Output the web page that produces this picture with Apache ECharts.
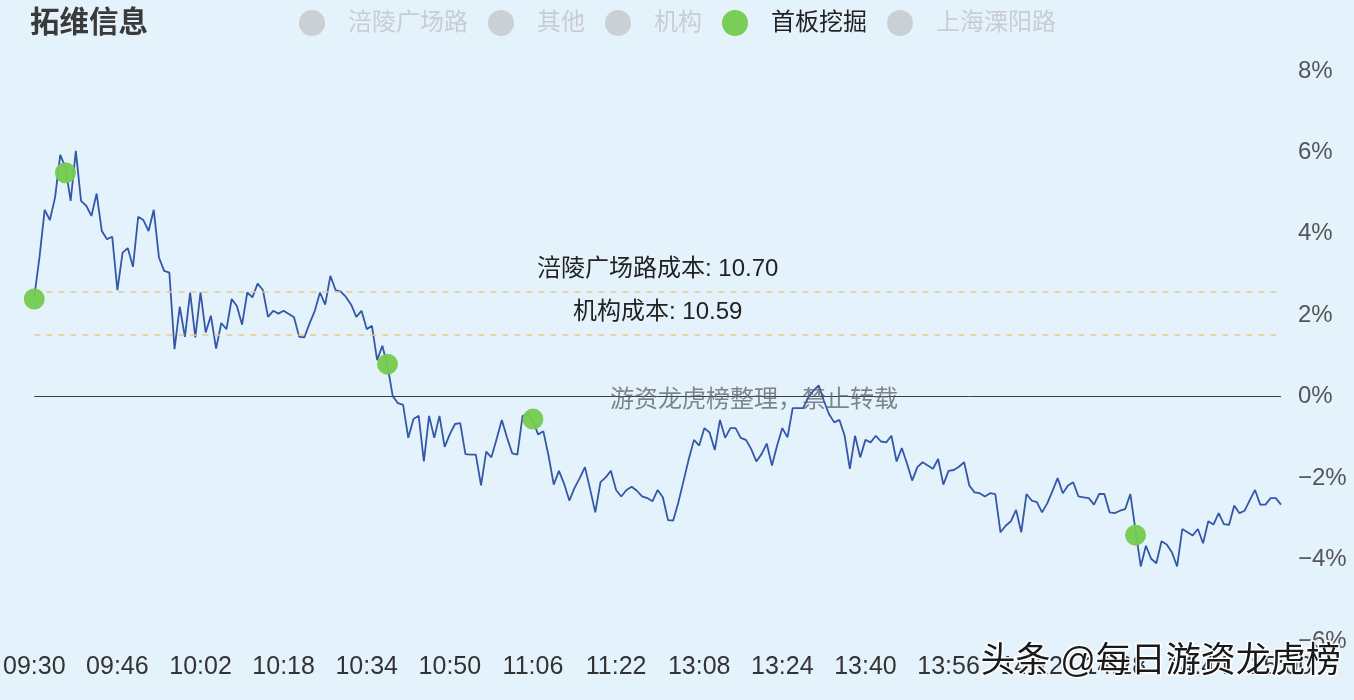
<!DOCTYPE html>
<html>
<head>
<meta charset="utf-8">
<script src="https://cdn.jsdelivr.net/npm/echarts@6/dist/echarts.min.js"></script>
<style>
html,body{margin:0;padding:0;background:#e4f2fc;}
#c{width:1354px;height:700px;}
</style>
</head>
<body>
<div id="c"></div>
<script>
// ---------- data ----------
const stockName = '拓维信息';
const sessions = [['09:30', '11:30'], ['13:01', '15:00']];
const pctChange = [
  2.45, 3.42, 4.59, 4.34, 4.89, 5.94, 5.63, 4.81, 6.04, 4.81,
  4.69, 4.44, 4.99, 4.07, 3.87, 3.93, 2.62, 3.54, 3.65, 3.19,
  4.42, 4.34, 4.07, 4.59, 3.42, 3.09, 3.05, 1.17, 2.21, 1.47,
  2.56, 1.46, 2.56, 1.58, 1.99, 1.18, 1.81, 1.66, 2.40, 2.23,
  1.77, 2.56, 2.44, 2.78, 2.62, 1.96, 2.11, 2.04, 2.11, 2.03,
  1.95, 1.47, 1.46, 1.80, 2.11, 2.56, 2.26, 2.97, 2.62, 2.58,
  2.45, 2.26, 1.96, 2.11, 1.66, 1.74, 0.90, 1.25, 0.76, 0.02,
  -0.16, -0.20, -1.01, -0.55, -0.47, -1.59, -0.47, -1.01, -0.47, -1.23,
  -0.92, -0.67, -0.65, -1.41, -1.42, -1.42, -2.18, -1.35, -1.49, -1.04,
  -0.57, -1.00, -1.39, -1.42, -0.47, -0.44, -0.59, -0.93, -0.85, -1.45,
  -2.16, -1.82, -2.14, -2.55, -2.24, -2.00, -1.73, -2.27, -2.84, -2.10,
  -1.98, -1.82, -2.29, -2.45, -2.29, -2.21, -2.31, -2.45, -2.49, -2.57,
  -2.29, -2.47, -3.03, -3.04, -2.59, -2.06, -1.53, -1.06, -1.20, -0.77,
  -0.88, -1.31, -0.57, -1.01, -0.77, -0.77, -1.01, -1.06, -1.28, -1.59,
  -1.41, -1.15, -1.69, -1.20, -0.77, -1.00, -0.28, -0.28, -0.28, -0.02,
  0.15, 0.28, -0.10, -0.43, -0.63, -0.57, -0.96, -1.77, -0.96, -1.49,
  -1.06, -1.12, -0.96, -1.10, -1.12, -0.96, -1.59, -1.26, -1.64, -2.06,
  -1.73, -1.61, -1.69, -1.77, -1.53, -2.16, -1.82, -1.80, -1.72, -1.61,
  -2.18, -2.35, -2.37, -2.45, -2.37, -2.39, -3.33, -3.17, -3.06, -2.78,
  -3.33, -2.39, -2.55, -2.59, -2.84, -2.62, -2.32, -2.00, -2.37, -2.18,
  -2.10, -2.45, -2.47, -2.49, -2.65, -2.39, -2.39, -2.84, -2.86, -2.80,
  -2.76, -2.39, -3.29, -4.17, -3.66, -3.98, -4.09, -3.55, -3.63, -3.82,
  -4.17, -3.25, -3.33, -3.41, -3.25, -3.60, -3.06, -3.14, -2.86, -3.13,
  -3.15, -2.67, -2.86, -2.80, -2.54, -2.29, -2.65, -2.65, -2.49, -2.49,
  -2.65
];
const legendNames = ['涪陵广场路', '其他', '机构', '首板挖掘', '上海溧阳路'];
const legendActive = [false, false, false, true, false];
// 首板挖掘 trade points: [minute index, pct]
const shoubanPoints = [[0, 2.4], [6, 5.5], [68, 0.8], [96, -0.55], [212, -3.4]];
const prevClose = 10.43;
const costLabels = ['涪陵广场路成本', '机构成本'];
const costPrices = [10.70, 10.59];
const yTicks = { min: -6, max: 8, interval: 2 };

// ---------- build categories ----------
function toMin(s) { const [h, m] = s.split(':').map(Number); return h * 60 + m; }
function fmt(m) { const h = Math.floor(m / 60), mm = m % 60; return String(h).padStart(2, '0') + ':' + String(mm).padStart(2, '0'); }
const times = [];
sessions.forEach(([a, b]) => { for (let m = toMin(a); m <= toMin(b); m++) times.push(fmt(m)); });

const FONT = "'Liberation Sans', 'Noto Sans CJK SC', sans-serif";
const chart = echarts.init(document.getElementById('c'));

const selected = {};
legendNames.forEach((n, i) => selected[n] = legendActive[i]);

const legendColors = ['#5470c6', '#91cc75', '#fac858', '#74cb4f', '#ee6666'];

const costMarks = costPrices.map((p, i) => ({
  yAxis: +((p / prevClose - 1) * 100).toFixed(3),
  label: { formatter: costLabels[i] + ': ' + p.toFixed(2) }
}));

const series = [
  {
    name: '分时',
    type: 'line',
    data: pctChange,
    showSymbol: false,
    symbol: 'none',
    lineStyle: { color: '#3557a8', width: 1.8 },
    z: 3,
    markLine: {
      silent: true,
      symbol: 'none',
      animation: false,
      label: {
        position: 'middle',
        color: '#222',
        fontSize: 24,
        fontFamily: FONT,
        distance: 10
      },
      lineStyle: { color: '#e8c98f', type: [6, 6], width: 1.6 },
      data: [
        ...costMarks,
        { yAxis: 0, label: { show: false }, lineStyle: { color: '#3a3f47', type: 'solid', width: 1 } }
      ]
    }
  }
];
legendNames.forEach((n, i) => {
  series.push({
    name: n,
    type: 'scatter',
    symbolSize: 21,
    itemStyle: { color: legendColors[i], opacity: 0.95 },
    data: n === '首板挖掘' ? shoubanPoints : [],
    z: 5
  });
});

chart.setOption({
  animation: false,
  backgroundColor: '#e4f2fc',
  title: {
    text: stockName,
    left: 25, top: 4,
    textStyle: { fontSize: 29.5, fontWeight: 'bold', color: '#3a3a3a', fontFamily: FONT }
  },
  legend: {
    data: legendNames,
    selected: selected,
    left: 294, top: 5,
    icon: 'circle',
    itemWidth: 26, itemHeight: 26,
    itemGap: 20,
    inactiveColor: '#c8cdd2',
    formatter: name => '{a|' + name + '}',
    textStyle: {
      fontSize: 24, color: '#222', fontFamily: FONT,
      rich: { a: { fontSize: 24, fontFamily: FONT, padding: [0, 0, 0, 18] } }
    }
  },
  grid: { left: 32, right: 73, top: 71, bottom: 59 },
  xAxis: {
    type: 'category',
    data: times,
    boundaryGap: false,
    axisLine: { show: false },
    axisTick: { show: false },
    splitLine: { show: false },
    axisLabel: {
      interval: 15,
      fontSize: 25,
      color: '#333',
      fontFamily: FONT,
      margin: 14
    }
  },
  yAxis: {
    type: 'value',
    position: 'right',
    min: yTicks.min, max: yTicks.max, interval: yTicks.interval,
    axisLine: { show: false },
    axisTick: { show: false },
    splitLine: { show: false },
    axisLabel: {
      fontSize: 24,
      color: '#555',
      fontFamily: FONT,
      margin: 17,
      formatter: v => (v < 0 ? '−' + Math.abs(v) : v) + '%'
    }
  },
  graphic: [
    {
      type: 'text', left: 610, top: 388, z: 10,
      style: { text: '游资龙虎榜整理，禁止转载', fontSize: 24, fill: 'rgba(90,95,105,0.75)', fontFamily: FONT }
    },
    {
      type: 'text', left: 979, top: 643, z: 10,
      style: { text: '头条 @每日游资龙虎榜', fontSize: 35, fill: '#1a1a1a', stroke: '#ffffff', lineWidth: 3, fontFamily: FONT }
    }
  ],
  series: series
});
</script>
</body>
</html>
